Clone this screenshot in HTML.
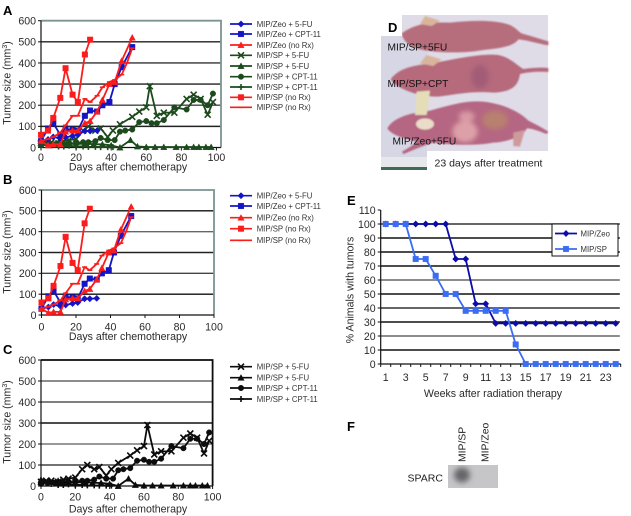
<!DOCTYPE html>
<html lang="en">
<head>
<meta charset="utf-8">
<title>Tumor size and SPARC figure</title>
<style>
  html, body { margin: 0; padding: 0; background: #fff; }
  body { width: 631px; height: 516px; overflow: hidden; }
  svg { display: block; font-family: "Liberation Sans", Arial, sans-serif; fill: #222; filter: blur(0.3px); }
  .tick { font-size: 10.6px; fill: #2a2a2a; }
  .title { font-size: 10.6px; fill: #2a2a2a; }
  .legend { font-size: 7.8px; fill: #333; }
  .panel { font-size: 13px; font-weight: bold; fill: #000; }
  .photo-text { font-size: 10.2px; fill: #111; }
</style>
</head>
<body>
<svg id="figure" xmlns="http://www.w3.org/2000/svg" width="631" height="516" viewBox="0 0 631 516">
  <defs>
    <filter id="soft" x="-50%" y="-50%" width="200%" height="200%"><feGaussianBlur stdDeviation="7"/></filter>
    <filter id="softer" x="-50%" y="-50%" width="200%" height="200%"><feGaussianBlur stdDeviation="3"/></filter>
    <filter id="blob" x="-50%" y="-50%" width="200%" height="200%"><feGaussianBlur stdDeviation="7"/></filter>
    <filter id="tiny" x="-5%" y="-5%" width="110%" height="110%"><feGaussianBlur stdDeviation="2.5"/></filter>
  </defs>
  <rect width="631" height="516" fill="#fff"/>

  <text class="panel" x="3" y="15">A</text>
  <text class="panel" x="3" y="184">B</text>
  <text class="panel" x="3" y="354">C</text>
  <text class="panel" x="347" y="205">E</text>
  <text class="panel" x="347" y="431">F</text>

  <text class="title" transform="translate(10.5,83) rotate(-90)" text-anchor="middle">Tumor size (mm<tspan font-size="7" dy="-3.5">3</tspan><tspan dy="3.5">)</tspan></text>
  <text class="title" x="128" y="170.5" text-anchor="middle">Days after chemotherapy</text>
  <text class="title" transform="translate(10.5,252) rotate(-90)" text-anchor="middle">Tumor size (mm<tspan font-size="7" dy="-3.5">3</tspan><tspan dy="3.5">)</tspan></text>
  <text class="title" x="128" y="340" text-anchor="middle">Days after chemotherapy</text>
  <text class="title" transform="translate(10.5,422) rotate(-90)" text-anchor="middle">Tumor size (mm<tspan font-size="7" dy="-3.5">3</tspan><tspan dy="3.5">)</tspan></text>
  <text class="title" x="128" y="512.5" text-anchor="middle">Days after chemotherapy</text>
  <text class="title" transform="translate(353.5,290) rotate(-90)" text-anchor="middle">% Animals with tumors</text>
  <text class="title" x="493" y="397" text-anchor="middle">Weeks after radiation therapy</text>

  <g id="chart-a"></g>
  <g id="chart-b"></g>
  <g id="chart-c"></g>
  <g id="chart-e"></g>

  <g>
    <rect x="402" y="15" width="146" height="136" fill="#dfdce8"/>
    <rect x="381" y="36" width="46" height="134" fill="#d6d6e4"/>
    <rect x="381" y="157" width="46" height="10" fill="#e6e8ec"/>
    <rect x="381" y="167" width="46" height="3" fill="#3f6a55"/>
    <g transform="translate(370,0) scale(0.3333)" filter="url(#tiny)">
      <path d="M95 100 C130 75 170 65 240 68 C310 60 380 60 420 75 C440 85 445 95 455 100 C490 110 515 118 535 124 L535 136 C500 130 470 120 445 118 C430 140 390 145 340 150 C290 160 200 160 150 148 C120 140 100 125 95 100Z" fill="#b76e7c"/>
      <path d="M150 72 L165 48 L210 62 L185 78Z" fill="#d9b59c"/>
      <path d="M62 238 C85 205 130 195 190 190 C260 175 340 160 385 165 C420 172 440 195 460 207 C490 203 515 202 535 204 L535 216 C500 214 475 216 450 222 C445 255 430 275 370 278 C300 272 250 285 205 290 C150 290 85 270 62 238Z" fill="#b66b7c"/>
      <ellipse cx="330" cy="230" rx="26" ry="36" fill="#8f4e72" opacity="0.5" filter="url(#soft)"/>
      <path d="M150 190 L170 165 L215 178 L190 198Z" fill="#d9b49c"/>
      <path d="M52 385 C70 355 110 340 180 332 C240 315 290 300 340 305 C400 312 450 335 475 362 C495 372 520 385 535 395 L530 402 C505 392 485 385 470 385 C465 405 420 425 370 428 C320 438 240 435 190 428 C150 440 120 455 100 462 L96 455 C115 445 130 435 140 425 C100 415 65 405 52 385Z" fill="#b56682"/>
      <path d="M430 398 L465 390 L450 440 L430 438Z" fill="#cf9a9c"/>
      <path d="M135 345 L140 275 L180 272 L170 345Z" fill="#e5ddb8"/>
      <ellipse cx="165" cy="372" rx="27" ry="17" fill="#eadcc8"/>
      <g filter="url(#blob)">
        <ellipse cx="285" cy="395" rx="38" ry="32" fill="#dda0a8"/>
        <ellipse cx="290" cy="350" rx="24" ry="16" fill="#d99aa4"/>
        <ellipse cx="375" cy="360" rx="38" ry="28" fill="#b8806e"/>
      </g>
    </g>
    <text class="photo-text" x="387.5" y="50.5">MIP/SP+5FU</text>
    <text class="photo-text" x="387.5" y="87">MIP/SP+CPT</text>
    <text class="photo-text" x="392.5" y="144.5">MIP/Zeo+5FU</text>
    <rect x="381" y="15" width="21" height="21" fill="#fff"/>
    <text class="panel" x="388" y="32">D</text>
    <rect x="427" y="151" width="125" height="22" fill="#fff"/>
    <text x="434.5" y="166.5" font-size="10.5" fill="#222">23 days after treatment</text>
  </g>

  <g>
    <rect x="448" y="465" width="50" height="23" fill="#c6c6c8"/>
    <clipPath id="blot-clip"><rect x="448" y="465" width="50" height="23"/></clipPath>
    <g clip-path="url(#blot-clip)">
      <ellipse cx="462" cy="475" rx="8" ry="7.5" fill="#656569" filter="url(#softer)"/>
    </g>
    <text transform="translate(465.5,462) rotate(-90)" font-size="10.4" fill="#222">MIP/SP</text>
    <text transform="translate(488.5,462) rotate(-90)" font-size="10.4" fill="#222">MIP/Zeo</text>
    <text x="407.5" y="481.5" font-size="10.5" fill="#222">SPARC</text>
  </g>
</svg>

<script>
// ---- Tumor chart data (days, mm3) ----
var zeoFuDays = [0, 4, 7, 11, 14, 18, 21, 25, 28, 32];
var zeoFuValues = [30, 38, 50, 42, 48, 55, 60, 78, 78, 80];
var zeoCptDays = [0, 4, 7, 11, 14, 18, 21, 25, 28, 32, 35, 39, 42, 46, 52];
var zeoCptValues = [30, 90, 115, 60, 85, 85, 80, 150, 175, 170, 200, 215, 300, 380, 475];
var zeoNoRxDays = [0, 4, 7, 11, 14, 18, 21, 25, 28, 32, 35, 39, 42, 46, 52];
var zeoNoRxValues = [30, 10, 15, 15, 75, 80, 80, 115, 125, 170, 225, 300, 310, 410, 520];
var spNoRxDays = [0, 4, 7, 11, 14, 18, 21, 25, 28];
var spNoRxValues = [60, 80, 140, 235, 375, 250, 215, 440, 510];
var spNoRx2Days = [0, 4, 7, 11, 14, 18, 21, 25, 28, 32, 35, 39, 42, 46, 49, 52];
var spNoRx2Values = [30, 40, 50, 70, 105, 150, 150, 230, 215, 245, 285, 310, 320, 345, 400, 470];
var spFuDays = [0, 3, 6, 10, 13, 16, 20, 24, 27, 31, 34, 38, 41, 45, 52, 56, 60, 62, 66, 70, 76, 83, 87, 91, 95, 98];
var spFuValues = [20, 25, 25, 20, 30, 35, 40, 80, 100, 80, 90, 50, 80, 110, 145, 170, 190, 290, 150, 165, 165, 230, 250, 230, 155, 215];
var spFu2Days = [0, 5, 10, 15, 20, 25, 30, 35, 40, 45, 51, 55, 60, 65, 70, 77, 83, 87, 90, 94, 97];
var spFu2Values = [30, 25, 25, 20, 15, 20, 15, 15, 10, 0, 35, 5, 2, 2, 2, 2, 2, 2, 2, 2, 2];
var spCptDays = [0, 4, 8, 12, 16, 20, 24, 27, 31, 34, 38, 42, 45, 48, 52, 56, 60, 63, 66, 70, 76, 83, 87, 91, 95, 98];
var spCptValues = [10, 15, 15, 15, 18, 20, 25, 25, 30, 45, 35, 35, 75, 80, 85, 120, 125, 115, 115, 130, 190, 180, 225, 225, 200, 255];
var spCpt2Days = [0, 3, 6, 10, 13, 16, 20, 24, 27, 31, 34, 38, 41];
var spCpt2Values = [15, 12, 10, 5, 5, 8, 5, 5, 3, 3, 2, 2, 2];

// ---- Chart E data (% of animals) ----
var weeks = [1, 2, 3, 4, 5, 6, 7, 8, 9, 10, 11, 12, 13, 14, 15, 16, 17, 18, 19, 20, 21, 22, 23, 24];
var zeoPercent = [100, 100, 100, 100, 100, 100, 100, 75, 75, 43, 43, 29, 29, 29, 29, 29, 29, 29, 29, 29, 29, 29, 29, 29];
var spPercent = [100, 100, 100, 75, 75, 63, 50, 50, 38, 38, 38, 38, 38, 14, 0, 0, 0, 0, 0, 0, 0, 0, 0, 0];

// ---- Tick labels ----
var sizeTicks = [0, 100, 200, 300, 400, 500, 600];
var dayTicks = [0, 20, 40, 60, 80, 100];
var percentTicks = [0, 10, 20, 30, 40, 50, 60, 70, 80, 90, 100, 110];
var weekLabels = [1, 3, 5, 7, 9, 11, 13, 15, 17, 19, 21, 23];

var SVGNS = 'http://www.w3.org/2000/svg';
var BLUE = '#1414c4', RED = '#fb1c1c', GREEN = '#1d4a1d', BLACK = '#0c0c0c';
var LINE_WIDTH = 1.8;
var MARKER_RADIUS = { diamond: 3.2, square: 2.8, triangle: 2.7, x: 3, circle: 2.8, plus: 3, dash: 2.5 };

function make(tag, attrs, parent) {
  var el = document.createElementNS(SVGNS, tag);
  for (var k in attrs) el.setAttribute(k, attrs[k]);
  parent.appendChild(el);
  return el;
}

function markerPath(kind, x, y, r) {
  if (kind === 'diamond') return 'M' + x + ' ' + (y - r) + 'L' + (x + r) + ' ' + y + 'L' + x + ' ' + (y + r) + 'L' + (x - r) + ' ' + y + 'Z';
  if (kind === 'square') return 'M' + (x - r) + ' ' + (y - r) + 'H' + (x + r) + 'V' + (y + r) + 'H' + (x - r) + 'Z';
  if (kind === 'triangle') return 'M' + x + ' ' + (y - r - 0.5) + 'L' + (x + r + 0.5) + ' ' + (y + r) + 'H' + (x - r - 0.5) + 'Z';
  if (kind === 'x') return 'M' + (x - r) + ' ' + (y - r) + 'L' + (x + r) + ' ' + (y + r) + 'M' + (x + r) + ' ' + (y - r) + 'L' + (x - r) + ' ' + (y + r);
  if (kind === 'plus') return 'M' + (x - r) + ' ' + y + 'H' + (x + r) + 'M' + x + ' ' + (y - r) + 'V' + (y + r);
  if (kind === 'dash') return 'M' + (x - r) + ' ' + y + 'H' + (x + r);
  return 'M' + (x - r) + ' ' + y + 'A' + r + ' ' + r + ' 0 1 0 ' + (x + r) + ' ' + y + 'A' + r + ' ' + r + ' 0 1 0 ' + (x - r) + ' ' + y + 'Z';
}

function drawMarker(parent, kind, x, y, color, name) {
  var open = kind === 'x' || kind === 'plus' || kind === 'dash';
  var m = make('path', {
    d: markerPath(kind, x, y, MARKER_RADIUS[kind]),
    fill: open ? 'none' : color,
    stroke: color,
    'stroke-width': open ? 1.6 : 0.4
  }, parent);
  
  
}

function drawSeries(parent, key, days, values, kind, color, xScale, yScale) {
  var g = make('g', {}, parent);
  
  
  var d = days.map(function (day, i) { return (i ? 'L' : 'M') + xScale(day).toFixed(2) + ' ' + yScale(values[i]).toFixed(2); }).join('');
  var line = make('path', { d: d, fill: 'none', stroke: color, 'stroke-width': LINE_WIDTH, 'stroke-linejoin': 'round' }, g);
  
  
  days.forEach(function (day, i) {
    drawMarker(g, kind, xScale(day), yScale(values[i]), color, 'point-' + key);
  });
}

function drawFrame(parent, box, yTicks, yDomain, xTickValues, xDomain, frameColor, gridColors, tickY, prefix) {
  var yScale = function (v) { return box.bottom - (v - yDomain[0]) / (yDomain[1] - yDomain[0]) * (box.bottom - box.top); };
  var xScale = function (v) { return box.left + (v - xDomain[0]) / (xDomain[1] - xDomain[0]) * (box.right - box.left); };
  yTicks.forEach(function (t, i) {
    var y = yScale(t);
    if (t !== yDomain[0] && t !== yDomain[1]) {
      var grid = make('line', { x1: box.left, x2: box.right, y1: y, y2: y, stroke: gridColors[i % gridColors.length], 'stroke-width': 1.4 }, parent);
      
      
    }
    var mark = make('line', { x1: box.left - 3, x2: box.left, y1: y, y2: y, stroke: '#111', 'stroke-width': 1 }, parent);
    
    
    var label = make('text', { x: box.left - 5, y: y + 3.8, 'text-anchor': 'end', 'class': 'tick' }, parent);
    label.textContent = t;
    
    
  });
  var frame = make('path', { d: 'M' + box.left + ' ' + box.top + 'H' + box.right + 'V' + box.bottom, fill: 'none', stroke: frameColor, 'stroke-width': 1.8 }, parent);
  
  
  var axes = make('path', { d: 'M' + box.left + ' ' + box.top + 'V' + box.bottom + 'H' + box.right, fill: 'none', stroke: '#111', 'stroke-width': 1.2 }, parent);
  
  
  if (xTickValues) {
    xTickValues.forEach(function (t) {
      var x = xScale(t);
      var mark = make('line', { x1: x, x2: x, y1: box.bottom, y2: box.bottom + 3, stroke: '#111', 'stroke-width': 1 }, parent);
      
      
      var label = make('text', { x: x, y: tickY, 'text-anchor': 'middle', 'class': 'tick' }, parent);
      label.textContent = t;
      
      
    });
  }
  return { x: xScale, y: yScale };
}

function legendRow(parent, label, kind, color, y, key) {
  var row = make('g', {}, parent);
  
  
  var ln = make('line', { x1: 230, x2: 252, y1: y, y2: y, stroke: color, 'stroke-width': 1.7 }, row);
  
  
  drawMarker(row, kind, 241, y, color, 'legend-marker');
  var t = make('text', { x: 256.7, y: y + 2.8, 'class': 'legend' }, row);
  t.textContent = label;
  
  
}

// Chart A
(function () {
  var root = document.getElementById('chart-a');
  var s = drawFrame(root, { left: 41, right: 221, top: 20.7, bottom: 147.5 }, sizeTicks, [0, 600], dayTicks, [0, 102.6], '#7b9492', ['#333', '#222', '#444', '#222', '#333', '#222', '#333'], 161, 'chart-a');
  drawSeries(root, 'sp-5fu-x', spFuDays, spFuValues, 'x', GREEN, s.x, s.y);
  drawSeries(root, 'sp-5fu-triangle', spFu2Days, spFu2Values, 'triangle', GREEN, s.x, s.y);
  drawSeries(root, 'sp-cpt-circle', spCptDays, spCptValues, 'circle', GREEN, s.x, s.y);
  drawSeries(root, 'sp-cpt-plus', spCpt2Days, spCpt2Values, 'plus', GREEN, s.x, s.y);
  drawSeries(root, 'zeo-5fu', zeoFuDays, zeoFuValues, 'diamond', BLUE, s.x, s.y);
  drawSeries(root, 'zeo-cpt', zeoCptDays, zeoCptValues, 'square', BLUE, s.x, s.y);
  drawSeries(root, 'zeo-norx', zeoNoRxDays, zeoNoRxValues, 'triangle', RED, s.x, s.y);
  drawSeries(root, 'sp-norx', spNoRxDays, spNoRxValues, 'square', RED, s.x, s.y);
  drawSeries(root, 'sp-norx-line', spNoRx2Days, spNoRx2Values, 'dash', RED, s.x, s.y);
  legendRow(root, 'MIP/Zeo + 5-FU', 'diamond', BLUE, 24, 'zeo-5fu');
  legendRow(root, 'MIP/Zeo + CPT-11', 'square', BLUE, 34, 'zeo-cpt');
  legendRow(root, 'MIP/Zeo (no Rx)', 'triangle', RED, 45, 'zeo-norx');
  legendRow(root, 'MIP/SP + 5-FU', 'x', GREEN, 55.3, 'sp-5fu-x');
  legendRow(root, 'MIP/SP + 5-FU', 'triangle', GREEN, 66, 'sp-5fu-triangle');
  legendRow(root, 'MIP/SP + CPT-11', 'circle', GREEN, 76.7, 'sp-cpt-circle');
  legendRow(root, 'MIP/SP + CPT-11', 'plus', GREEN, 87, 'sp-cpt-plus');
  legendRow(root, 'MIP/SP (no Rx)', 'square', RED, 97.3, 'sp-norx');
  legendRow(root, 'MIP/SP (no Rx)', 'dash', RED, 107.3, 'sp-norx-line');
})();

// Chart B
(function () {
  var root = document.getElementById('chart-b');
  var s = drawFrame(root, { left: 41.5, right: 214, top: 190, bottom: 315 }, sizeTicks, [0, 600], dayTicks, [0, 100], '#7b9492', ['#222', '#111', '#444', '#222', '#666', '#111', '#333'], 330.5, 'chart-b');
  drawSeries(root, 'zeo-5fu', zeoFuDays, zeoFuValues, 'diamond', BLUE, s.x, s.y);
  drawSeries(root, 'zeo-cpt', zeoCptDays, zeoCptValues, 'square', BLUE, s.x, s.y);
  drawSeries(root, 'zeo-norx', zeoNoRxDays, zeoNoRxValues, 'triangle', RED, s.x, s.y);
  drawSeries(root, 'sp-norx', spNoRxDays, spNoRxValues, 'square', RED, s.x, s.y);
  drawSeries(root, 'sp-norx-line', spNoRx2Days, spNoRx2Values, 'dash', RED, s.x, s.y);
  legendRow(root, 'MIP/Zeo + 5-FU', 'diamond', BLUE, 195.7, 'zeo-5fu');
  legendRow(root, 'MIP/Zeo + CPT-11', 'square', BLUE, 206, 'zeo-cpt');
  legendRow(root, 'MIP/Zeo (no Rx)', 'triangle', RED, 217.7, 'zeo-norx');
  legendRow(root, 'MIP/SP (no Rx)', 'square', RED, 228.7, 'sp-norx');
  legendRow(root, 'MIP/SP (no Rx)', 'dash', RED, 240.3, 'sp-norx-line');
})();

// Chart C
(function () {
  var root = document.getElementById('chart-c');
  var s = drawFrame(root, { left: 41, right: 212.6, top: 360, bottom: 486 }, sizeTicks, [0, 600], dayTicks, [0, 100], '#0c0c0c', ['#333', '#444', '#777', '#111', '#555', '#666', '#333'], 500.5, 'chart-c');
  drawSeries(root, 'sp-5fu-x', spFuDays, spFuValues, 'x', BLACK, s.x, s.y);
  drawSeries(root, 'sp-5fu-triangle', spFu2Days, spFu2Values, 'triangle', BLACK, s.x, s.y);
  drawSeries(root, 'sp-cpt-circle', spCptDays, spCptValues, 'circle', BLACK, s.x, s.y);
  drawSeries(root, 'sp-cpt-plus', spCpt2Days, spCpt2Values, 'plus', BLACK, s.x, s.y);
  legendRow(root, 'MIP/SP + 5-FU', 'x', BLACK, 366.7, 'sp-5fu-x');
  legendRow(root, 'MIP/SP + 5-FU', 'triangle', BLACK, 377.7, 'sp-5fu-triangle');
  legendRow(root, 'MIP/SP + CPT-11', 'circle', BLACK, 388, 'sp-cpt-circle');
  legendRow(root, 'MIP/SP + CPT-11', 'plus', BLACK, 399, 'sp-cpt-plus');
})();

// Chart E
(function () {
  var root = document.getElementById('chart-e');
  var s = drawFrame(root, { left: 380.7, right: 620.7, top: 210, bottom: 364 }, percentTicks, [0, 110], null, null, '#fff', ['#222', '#111', '#666', '#111', '#333', '#111', '#666', '#111', '#111', '#111', '#333', '#111'], 0, 'chart-e');
  var weekX = function (w) { return 380.7 + (w - 0.5) * 10; };
  var topEdge = make('line', { x1: 381.5, x2: 620.7, y1: 210, y2: 210, stroke: '#fff', 'stroke-width': 2 }, root);
  
  
  for (var i = 0; i <= weeks.length; i++) {
    var tick = make('line', { x1: weekX(i + 0.5), x2: weekX(i + 0.5), y1: 364, y2: 367, stroke: '#111', 'stroke-width': 1 }, root);
    
    
  }
  weekLabels.forEach(function (w) {
    var label = make('text', { x: weekX(w), y: 381, 'text-anchor': 'middle', 'class': 'tick' }, root);
    label.textContent = w;
    
    
  });
  drawSeries(root, 'mip-zeo', weeks, zeoPercent, 'diamond', '#0c0ca8', weekX, s.y);
  drawSeries(root, 'mip-sp', weeks, spPercent, 'square', '#3b6df2', weekX, s.y);

  var legend = make('g', {}, root);
  
  
  var box = make('rect', { x: 552, y: 224, width: 66, height: 32, fill: '#fff', stroke: '#111', 'stroke-width': 1 }, legend);
  
  
  var entries = [['MIP/Zeo', 'diamond', '#0c0ca8', 233.5], ['MIP/SP', 'square', '#3b6df2', 249]];
  entries.forEach(function (e) {
    var ln = make('line', { x1: 555, x2: 577, y1: e[3], y2: e[3], stroke: e[2], 'stroke-width': 1.7 }, legend);
    
    
    drawMarker(legend, e[1], 566, e[3], e[2], 'chart-e-legend-marker');
    var t = make('text', { x: 580.5, y: e[3] + 2.8, 'class': 'legend' }, legend);
    t.textContent = e[0];
    
    
  });
})();
</script>
</body>
</html>
